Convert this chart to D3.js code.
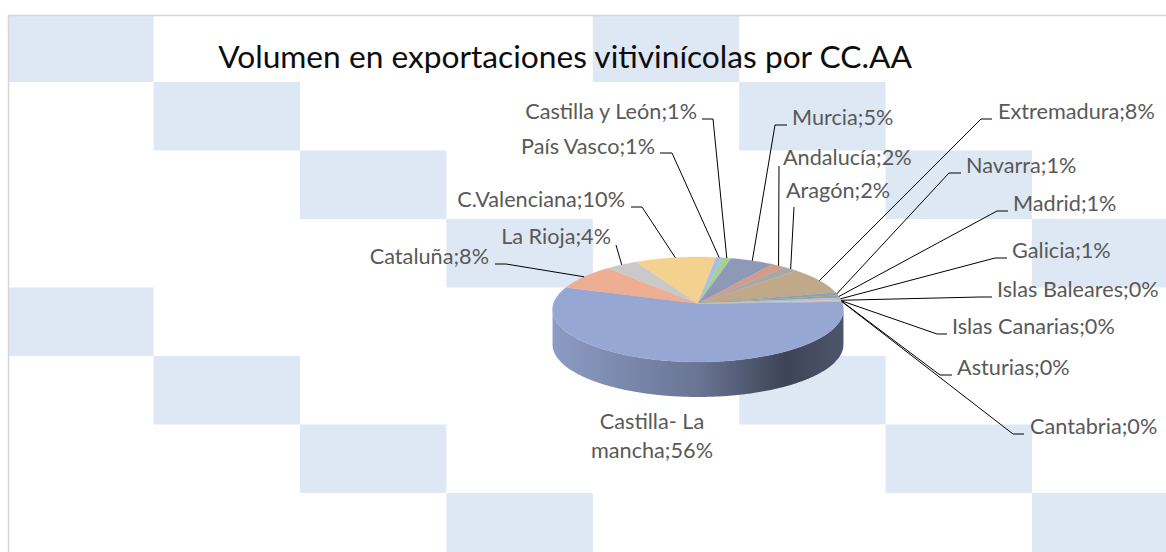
<!DOCTYPE html>
<html><head><meta charset="utf-8">
<script src="https://cdn.jsdelivr.net/npm/d3@7"></script>
<style>body{margin:0;background:#fff;} svg{display:block;}</style>
</head><body>
<svg id="chart" width="1166" height="552"></svg>
<script>
// ---------- data ----------
const title = "Volumen en exportaciones vitivinícolas por CC.AA";
const categories = ["Castilla- La mancha","Cataluña","La Rioja","C.Valenciana","País Vasco","Castilla y León","Murcia","Andalucía","Aragón","Extremadura","Navarra","Madrid","Galicia","Islas Baleares","Islas Canarias","Asturias","Cantabria"];
const values = [55.8, 8, 4, 10, 0.8, 1.1, 5.4, 1.8, 1.8, 8.4, 0.9, 0.8, 0.7, 0.2, 0.15, 0.1, 0.1];
const sliceColors = ["#97a7d4","#eeae94","#c9c9c9","#f5d18f","#a7bfe3","#a8cf98","#8e99b8","#d49b8b","#a8a8a8","#c0a988","#8ea0c0","#93a88a","#a9bfe2","#f0b49a","#cccccc","#f5d390","#9bb2dc"];

// ---------- label layout (positions only) ----------
const labelPos = [
 {x:652, y:429, anchor:"middle", wrap:true, leader:[]},
 {x:489, y:264, anchor:"end", leader:[[495,264],[506,264]]},
 {x:611, y:244, anchor:"end", leader:[[616,245]]},
 {x:625, y:207, anchor:"end", leader:[[631,207],[642,207]]},
 {x:655, y:154, anchor:"end", leader:[[660,153],[672,153]]},
 {x:697, y:119, anchor:"end", leader:[[702,119],[713,119]]},
 {x:792, y:125, anchor:"start", leader:[[787,125],[775,125]]},
 {x:783, y:165, anchor:"start", leader:[[779,166]]},
 {x:786, y:198, anchor:"start", leader:[[794,207]]},
 {x:998, y:119, anchor:"start", leader:[[992,119],[981,119]]},
 {x:966, y:173, anchor:"start", leader:[[961,173],[949,173]]},
 {x:1013, y:211, anchor:"start", leader:[[1008,211],[997,211]]},
 {x:1012, y:258, anchor:"start", leader:[[1007,258],[995,258]]},
 {x:997, y:297, anchor:"start", leader:[[992,297],[980,297]]},
 {x:952, y:334, anchor:"start", leader:[[947,334],[937,334]]},
 {x:957, y:375, anchor:"start", leader:[[952,375],[940,375]]},
 {x:1030, y:434, anchor:"start", leader:[[1024,434],[1013,434]]}
];

const W = 1166, H = 552;
const svg = d3.select("#chart");
const FONT = "Lato, 'Open Sans', 'Noto Sans', sans-serif";

// fit font size to Calibri metrics (title = 20.18 em in Calibri)
const probe = svg.append("text").attr("font-family", FONT).attr("font-size", 100).text(title);
const k = 2018 / probe.node().getComputedTextLength();
probe.remove();
const titleSize = 34.4 * k, labelSize = 23.5 * k;

// ---------- background ----------
const area = {x0: 8.5, y0: 15.5};
svg.append("clipPath").attr("id", "areaClip").append("rect")
  .attr("x", area.x0).attr("y", area.y0).attr("width", W - area.x0).attr("height", H - area.y0);
const cells = [];
const cw = 146.4, ch = 68.5, ox = 7.2, oy = 13.5;
for (let r = 0; r < 9; r++) for (let c = 0; c < 9; c++) if (((c - r) % 4 + 4) % 4 === 0) cells.push({r, c});
svg.append("g").attr("clip-path", "url(#areaClip)").selectAll("rect").data(cells).join("rect")
  .attr("x", d => ox + d.c * cw).attr("y", d => oy + d.r * ch)
  .attr("width", cw).attr("height", ch).attr("fill", "#dde8f4");
svg.append("path").attr("d", `M${area.x0},${H} V${area.y0} H${W}`)
  .attr("fill", "none").attr("stroke", "#d6d6d6").attr("stroke-width", 1.5);

// ---------- title ----------
svg.append("text").attr("x", 565).attr("y", 68).attr("text-anchor", "middle")
  .attr("font-family", FONT).attr("font-size", titleSize).attr("fill", "#0d0d0d").text(title);

// ---------- 3D pie ----------
const cx = 698, cy = 303.5, rx = 144.5, ry = 51.8, persp = 0.114, depth = 35;
function proj(theta, drop = 0) {
  const u = Math.sin(theta), v = -Math.cos(theta);
  const w = 1 / (1 - persp * v);
  return [cx + rx * u * w, cy + ry * v * w + drop];
}
const startRot = 88 * Math.PI / 180;
const pie = d3.pie().sort(null).value(d => d).startAngle(startRot).endAngle(startRot + 2 * Math.PI);
const arcs = pie(values);

// silhouette angles
let thR = Math.PI / 2, thL = 3 * Math.PI / 2, maxX = -1e9, minX = 1e9;
for (let t = 0; t <= Math.PI; t += 0.001) { const x = proj(t)[0]; if (x > maxX) { maxX = x; thR = t; } }
for (let t = Math.PI; t <= 2 * Math.PI; t += 0.001) { const x = proj(t)[0]; if (x < minX) { minX = x; thL = t; } }

function rimPts(a0, a1, drop = 0) {
  const n = Math.max(2, Math.ceil(Math.abs(a1 - a0) / 0.01));
  return d3.range(n + 1).map(i => proj(a0 + (a1 - a0) * i / n, drop));
}

const defs = svg.append("defs");
const gSide = svg.append("g"), gTop = svg.append("g");
arcs.forEach((a, i) => {
  const col = d3.color(sliceColors[i]);
  const gid = "side" + i;
  const lg = defs.append("linearGradient").attr("id", gid).attr("gradientUnits", "userSpaceOnUse")
    .attr("x1", cx - rx * 1.01).attr("x2", cx + rx * 1.01).attr("y1", 0).attr("y2", 0);
  [[0, 0.2], [0.5, 1.0], [0.8, 2.5], [1, 1.9]].forEach(([o, dk]) =>
    lg.append("stop").attr("offset", o).attr("stop-color", col.darker(dk).formatHex()));
  for (const off of [-2 * Math.PI, 0, 2 * Math.PI]) {
    const s = Math.max(a.startAngle + off, thR), e = Math.min(a.endAngle + off, thL);
    if (e > s) {
      const top = rimPts(s, e), bot = rimPts(e, s, depth);
      gSide.append("path").attr("d", "M" + top.concat(bot).map(p => p.join(",")).join("L") + "Z")
        .attr("fill", `url(#${gid})`);
    }
  }
  const pts = [[cx, cy]].concat(rimPts(a.startAngle, a.endAngle));
  gTop.append("path").attr("d", "M" + pts.map(p => p.join(",")).join("L") + "Z")
    .attr("fill", sliceColors[i]).attr("stroke", sliceColors[i]).attr("stroke-width", 0.3);
});

// ---------- labels & leaders ----------
const total = d3.sum(values);
const gLab = svg.append("g");
arcs.forEach((a, i) => {
  const L = labelPos[i];
  const pct = Math.round(values[i] / total * 100);
  const txt = categories[i] + ";" + pct + "%";
  if (L.leader.length) {
    const mid = (a.startAngle + a.endAngle) / 2;
    const pts = L.leader.concat([proj(mid)]);
    gLab.append("path").attr("d", "M" + pts.map(p => p.join(",")).join("L"))
      .attr("fill", "none").attr("stroke", "#000").attr("stroke-width", 1);
  }
  const t = gLab.append("text").attr("x", L.x).attr("y", L.y).attr("text-anchor", L.anchor)
    .attr("font-family", FONT).attr("font-size", labelSize).attr("fill", "#595959");
  if (L.wrap) {
    const cut = txt.lastIndexOf(" ");
    t.append("tspan").attr("x", L.x).text(txt.slice(0, cut));
    t.append("tspan").attr("x", L.x).attr("dy", 29).text(txt.slice(cut + 1));
  } else t.text(txt);
});
</script>
</body></html>
